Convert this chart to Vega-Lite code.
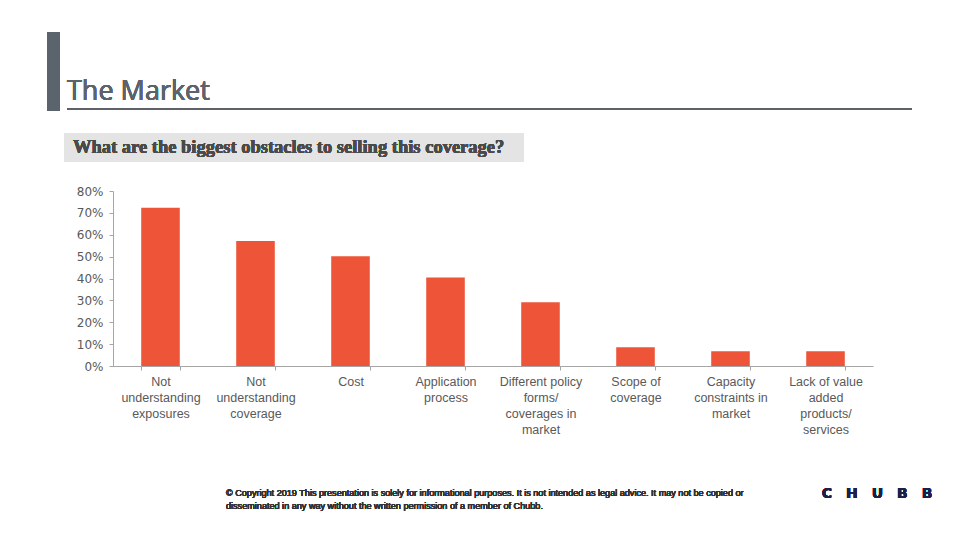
{
  "$schema": "https://vega.github.io/schema/vega-lite/v6.json",
  "width": 760,
  "height": 175,
  "autosize": {"type": "none"},
  "padding": {"left": 113, "top": 191, "right": 87, "bottom": 174},
  "background": "white",
  "config": {"view": {"stroke": null}},
  "data": {
    "values": [
      {"obstacle": "Not understanding exposures", "share": 0.724},
      {"obstacle": "Not understanding coverage", "share": 0.571},
      {"obstacle": "Cost", "share": 0.502},
      {"obstacle": "Application process", "share": 0.405},
      {"obstacle": "Different policy forms/ coverages in market", "share": 0.291},
      {"obstacle": "Scope of coverage", "share": 0.086},
      {"obstacle": "Capacity constraints in market", "share": 0.067},
      {"obstacle": "Lack of value added products/ services", "share": 0.067}
    ]
  },
  "layer": [
    {
      "mark": {"type": "rect", "color": "#e4e4e4", "clip": false},
      "encoding": {"x": {"value": -49}, "x2": {"value": 411}, "y": {"value": -58}, "y2": {"value": -29}}
    },
    {
      "mark": {"type": "rect", "color": "#5b646d", "clip": false},
      "encoding": {"x": {"value": -66}, "x2": {"value": -53}, "y": {"value": -159}, "y2": {"value": -80}}
    },
    {
      "mark": {"type": "rule", "color": "#5f6368", "strokeWidth": 1, "clip": false},
      "encoding": {"x": {"value": -46}, "x2": {"value": 799}, "y": {"value": -82}}
    },
    {
      "mark": {"type": "text", "text": "The Market", "font": "Open Sans", "fontSize": 27, "color": "#5b646d", "align": "left", "baseline": "alphabetic", "clip": false},
      "encoding": {"x": {"value": -46}, "y": {"value": -91}}
    },
    {
      "mark": {"type": "text", "text": "What are the biggest obstacles to selling this coverage?", "font": "Liberation Serif", "fontWeight": "bold", "fontSize": 18.5, "color": "#4a4a4a", "align": "left", "baseline": "alphabetic", "clip": false},
      "encoding": {"x": {"value": -40}, "y": {"value": -38}}
    },
    {
      "mark": {"type": "text", "text": ["© Copyright 2019 This presentation is solely for informational purposes. It is not intended as legal advice.  It may not be copied or", "disseminated in any way without the written permission of a member of Chubb."], "font": "Liberation Sans", "fontWeight": "normal", "fontSize": 9.1, "lineHeight": 12.5, "color": "#333333", "align": "left", "baseline": "alphabetic", "clip": false},
      "encoding": {"x": {"value": 113}, "y": {"value": 305}}
    },
    {
      "mark": {"type": "text", "text": "C\u2003H\u2003U\u2003B\u2003B", "font": "DejaVu Sans", "fontWeight": "bold", "fontSize": 14, "color": "#1c1f4a", "align": "center", "baseline": "alphabetic", "clip": false},
      "encoding": {"x": {"value": 764}, "y": {"value": 307}}
    },
    {
      "mark": {"type": "bar", "color": "#ee5437"},
      "encoding": {
        "x": {
          "field": "obstacle",
          "type": "nominal",
          "sort": null,
          "scale": {"paddingInner": 0.594, "paddingOuter": 0.297},
          "axis": {
            "title": null,
            "labelAngle": 0,
            "labelFont": "Liberation Sans",
            "labelFontSize": 12.5,
            "labelColor": "#595959",
            "labelLineHeight": 16,
            "labelBaseline": "top",
            "labelPadding": 5,
            "labelLimit": 200,
            "labelExpr": "{'Not understanding exposures': ['Not', 'understanding', 'exposures'], 'Not understanding coverage': ['Not', 'understanding', 'coverage'], 'Cost': ['Cost'], 'Application process': ['Application', 'process'], 'Different policy forms/ coverages in market': ['Different policy', 'forms/', 'coverages in', 'market'], 'Scope of coverage': ['Scope of', 'coverage'], 'Capacity constraints in market': ['Capacity', 'constraints in', 'market'], 'Lack of value added products/ services': ['Lack of value', 'added', 'products/', 'services']}[datum.value]",
            "tickBand": "extent",
            "tickSize": 4,
            "tickColor": "#a6a6a6",
            "domainColor": "#a6a6a6"
          }
        },
        "y": {
          "field": "share",
          "type": "quantitative",
          "scale": {"domain": [0, 0.8], "nice": false},
          "axis": {
            "title": null,
            "format": ".0%",
            "values": [0, 0.1, 0.2, 0.3, 0.4, 0.5, 0.6, 0.7, 0.8],
            "grid": false,
            "labelFont": "DejaVu Sans",
            "labelFontSize": 12,
            "labelColor": "#595959",
            "labelPadding": 6,
            "tickSize": 4,
            "tickColor": "#a6a6a6",
            "domainColor": "#a6a6a6"
          }
        }
      }
    }
  ]
}
